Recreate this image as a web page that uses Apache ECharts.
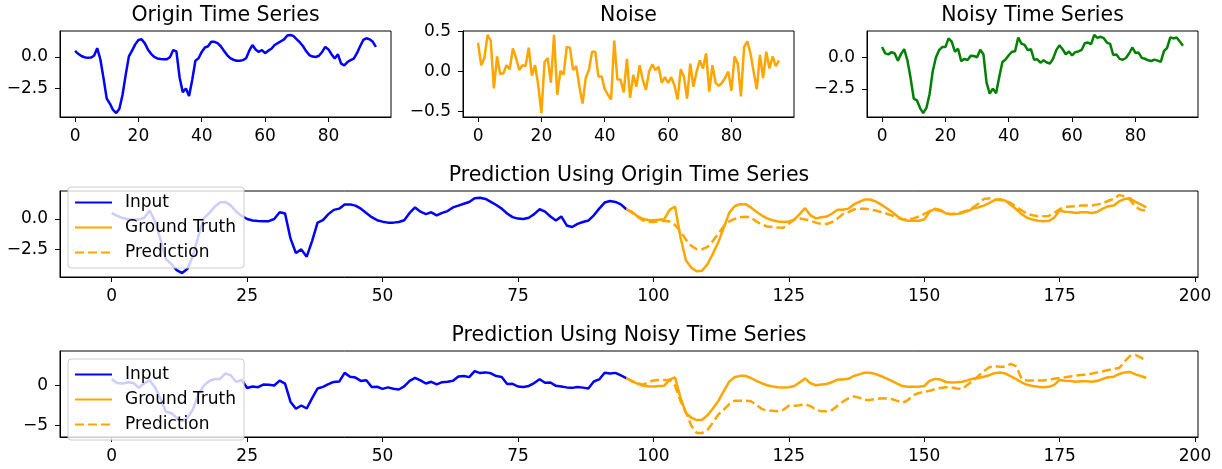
<!DOCTYPE html>
<html>
<head>
<meta charset="utf-8">
<title>Time series prediction</title>
<script src="https://cdn.jsdelivr.net/npm/echarts@6/dist/echarts.min.js"></script>
<style>
  html, body { margin: 0; padding: 0; background: #fff; }
  #chart { width: 1222px; height: 469px; }
</style>
</head>
<body>
<div id="chart"></div>
<script>
// --- data (index 0..95 for the inputs, 96..191 for the horizon) ---
const originSeries = [
  0.48, 0.25, 0.08, -0.02, -0.07, -0.05, 0.1, 0.7, -0.2, -1.7,
  -3.3, -3.7, -4.2, -4.45, -4.1, -3.0, -1.4, 0.05, 0.5, 1.0,
  1.35, 1.4, 1.1, 0.6, 0.25, 0.0, -0.12, -0.16, -0.18, -0.18,
  0.0, 0.55, 0.45, -1.6, -2.8, -2.5, -3.1, -1.8, -0.3, -0.1,
  0.4, 0.75, 0.85, 1.2, 1.2, 1.1, 0.85, 0.5, 0.15, -0.1,
  -0.22, -0.3, -0.3, -0.25, -0.1, 0.5, 0.95, 0.6, 0.4, 0.55,
  0.3, 0.5, 0.65, 0.95, 1.1, 1.25, 1.4, 1.7, 1.75, 1.65,
  1.4, 1.15, 0.85, 0.45, 0.15, 0.03, 0.0, 0.1, 0.4, 0.8,
  0.6, 0.2, -0.13, 0.21, -0.53, -0.66, -0.4, -0.25, -0.13, 0.3,
  0.85, 1.35, 1.48, 1.4, 1.2, 0.8
];
const noiseSeries = [
  0.36, 0.08, 0.17, 0.46, 0.39, -0.21, 0.19, -0.03, -0.02, 0.08,
  0.03, 0.29, 0.17, 0.02, 0.08, 0.07, 0.30, -0.05, 0.08, -0.17,
  -0.52, 0.12, 0.17, -0.14, 0.46, -0.29, 0.01, -0.04, 0.31, 0.30,
  0.02, 0.07, -0.19, -0.40, -0.08, 0.02, 0.25, 0.25, -0.06, -0.06,
  -0.22, -0.29, -0.35, 0.39, -0.10, -0.10, -0.26, 0.16, -0.33, -0.04,
  -0.19, 0.08, -0.10, -0.23, 0.0, 0.09, 0.02, 0.06, -0.14, -0.07,
  -0.14, -0.07, -0.17, -0.35, 0.03, -0.06, -0.34, 0.10, -0.19, 0.0,
  0.14, 0.04, 0.23, -0.25, 0.08, -0.14, -0.18, -0.14, -0.08, 0.0,
  -0.24, 0.19, 0.10, -0.31, 0.31, 0.38, 0.23, 0.0, -0.22, 0.21,
  -0.08, 0.25, 0.04, 0.19, 0.07, 0.14
];
const noisySeries = [
  0.84, 0.33, 0.25, 0.43, 0.32, -0.26, 0.29, 0.67, -0.22, -1.62,
  -3.27, -3.41, -4.03, -4.43, -4.02, -2.93, -1.1, 0.0, 0.58, 0.83,
  0.83, 1.52, 1.27, 0.46, 0.70, -0.29, -0.11, -0.2, 0.13, 0.12,
  0.02, 0.62, 0.26, -2.0, -2.88, -2.48, -2.85, -1.55, -0.36, -0.16,
  0.18, 0.46, 0.5, 1.59, 1.1, 1.0, 0.59, 0.66, -0.18, -0.14,
  -0.41, -0.22, -0.4, -0.48, -0.1, 0.59, 0.97, 0.66, 0.26, 0.48,
  0.16, 0.43, 0.48, 0.6, 1.13, 1.19, 1.06, 1.8, 1.56, 1.65,
  1.54, 1.19, 1.08, 0.2, 0.23, -0.11, -0.18, -0.04, 0.32, 0.8,
  0.36, 0.39, -0.03, -0.1, -0.22, -0.28, -0.17, -0.25, -0.35, 0.51,
  0.77, 1.6, 1.52, 1.59, 1.27, 0.94
];
const groundTruth = [
  0.6, 0.25, 0.02, -0.08, -0.1, -0.06, -0.02, 0.75, 1.03, -1.5,
  -3.4, -4.0, -4.3, -4.25, -3.7, -2.85, -1.9, -0.7, 0.5, 1.05,
  1.22, 1.22, 0.95, 0.6, 0.3, 0.05, -0.1, -0.2, -0.24, -0.2,
  -0.05, 0.4, 0.89, 0.3, 0.05, 0.14, 0.2, 0.45, 0.76, 0.76,
  0.85, 1.2, 1.4, 1.6, 1.6, 1.45, 1.2, 0.9, 0.6, 0.25,
  -0.05, -0.14, -0.15, -0.14, -0.05, 0.6, 0.84, 0.75, 0.45, 0.38,
  0.42, 0.48, 0.65, 0.85, 0.95, 1.1, 1.3, 1.55, 1.63, 1.5,
  1.15, 0.8, 0.4, 0.1, -0.05, -0.15, -0.19, -0.15, 0.1, 0.7,
  0.6, 0.57, 0.49, 0.55, 0.55, 0.49, 0.6, 0.85, 1.05, 1.11,
  1.45, 1.65, 1.71, 1.4, 1.2, 0.95
];
const predictionOrigin = [
  0.55, 0.2, -0.1, -0.25, -0.25, -0.19, -0.15, -0.2, -0.5, -1.0,
  -1.7, -2.2, -2.49, -2.49, -2.3, -1.8, -1.2, -0.6, -0.2, 0.0,
  0.15, 0.18, 0.12, -0.2, -0.45, -0.62, -0.66, -0.7, -0.73, -0.4,
  -0.05, 0.05, -0.05, -0.15, -0.3, -0.41, -0.41, -0.25, 0.05, 0.4,
  0.57, 0.78, 0.84, 0.84, 0.78, 0.7, 0.58, 0.45, 0.3, 0.1,
  -0.02, -0.05, 0.05, 0.2, 0.41, 0.65, 0.76, 0.68, 0.45, 0.41,
  0.45, 0.57, 0.7, 0.95, 1.25, 1.65, 1.7, 1.63, 1.57, 1.5,
  1.3, 1.0, 0.7, 0.45, 0.3, 0.22, 0.22, 0.25, 0.5, 0.8,
  0.97, 1.02, 1.05, 1.1, 1.11, 1.11, 1.2, 1.3, 1.5, 1.65,
  1.98, 1.85, 1.57, 1.0, 0.75, 0.68
];
const predictionNoisy = [
  0.55, 0.35, 0.12, 0.35, 0.65, 0.71, 0.71, 0.71, 0.0, -1.9,
  -3.3, -5.0, -5.9, -5.92, -5.5, -4.6, -3.6, -3.0, -2.3, -1.88,
  -1.88, -1.88, -1.95, -2.4, -2.9, -3.13, -3.13, -3.2, -3.0, -2.5,
  -2.5, -2.45, -2.33, -2.55, -3.0, -3.2, -3.2, -3.05, -2.5, -2.0,
  -1.6, -1.35, -1.5, -1.8, -1.8, -1.67, -1.58, -1.6, -1.67, -1.9,
  -2.15, -1.8, -1.2, -0.92, -0.8, -0.65, -0.45, -0.3, -0.21, -0.21,
  -0.35, -0.4, 0.1, 0.6, 1.2, 1.8, 2.29, 2.42, 2.35, 2.35,
  2.71, 2.4, 0.8, 0.63, 0.63, 0.63, 0.65, 0.71, 0.85, 0.95,
  1.04, 1.15, 1.25, 1.33, 1.4, 1.5, 1.65, 1.8, 1.95, 2.08,
  2.2, 3.0, 3.7, 3.83, 3.5, 3.13
];

const horizonStart = 96;
const smallXTicks = [0, 20, 40, 60, 80];
const wideXTicks = [0, 25, 50, 75, 100, 125, 150, 175, 200];
const originYTicks = [-2.5, 0];
const noiseYTicks = [-0.5, 0, 0.5];
const noisyYTicks = [-2.5, 0];
const predOriginYTicks = [-2.5, 0];
const predNoisyYTicks = [-5, 0];

const titles = [
  'Origin Time Series', 'Noise', 'Noisy Time Series',
  'Prediction Using Origin Time Series', 'Prediction Using Noisy Time Series'
];
const legendNames = ['Input', 'Ground Truth', 'Prediction'];

// --- helpers ---
const FONT = 'DejaVu Sans';
const BLUE = '#0000ff';
const ORANGE = '#ffa500';
const GREEN = '#008000';
const TICK_FONT = 17;
const TITLE_FONT = 20.5;

// matplotlib-like autoscale: data limits plus 5% margin each side
function paddedRange(...arrays) {
  const all = arrays.flat();
  const lo = Math.min(...all);
  const hi = Math.max(...all);
  const m = (hi - lo) * 0.05;
  return [lo - m, hi + m];
}

function toPoints(values, start) {
  return values.map((v, i) => [start + i, v]);
}

function fmt(decimals) {
  return (v) => Number(v).toFixed(decimals).replace('-', '\u2212');
}

function makeAxis(gridIndex, range, ticks, decimals, isY) {
  return {
    type: 'value',
    gridIndex,
    min: range[0],
    max: range[1],
    axisLine: { show: true, onZero: false, lineStyle: { color: '#000', width: 1 } },
    axisTick: { show: true, length: 5, customValues: ticks, lineStyle: { color: '#000', width: 1 } },
    axisLabel: {
      customValues: ticks,
      formatter: fmt(decimals),
      color: '#000',
      fontSize: TICK_FONT,
      fontFamily: FONT,
      margin: isY ? 12 : 11
    },
    splitLine: { show: false }
  };
}

function lineSeries(name, points, idx, color, dashed) {
  return {
    name,
    type: 'line',
    xAxisIndex: idx,
    yAxisIndex: idx,
    data: points,
    symbol: 'none',
    lineStyle: { color, width: 2.5, type: dashed ? [9, 4] : 'solid' },
    itemStyle: { color },
    z: 2
  };
}

// --- layout: 3 small axes on top, 2 wide axes below ---
const grids = [
  { left: 60, top: 31, width: 331, height: 86 },
  { left: 463, top: 31, width: 331, height: 86 },
  { left: 867, top: 31, width: 331, height: 86 },
  { left: 60, top: 191, width: 1138, height: 86 },
  { left: 60, top: 351, width: 1138, height: 86 }
].map(g => Object.assign(g, { show: true, borderColor: '#000', borderWidth: 1, backgroundColor: 'transparent' }));

const titleTops = [5, 5, 5, 165, 325];

const lastIdx = horizonStart - 1;
const originInput = toPoints(originSeries, 0);
const noisyInput = toPoints(noisySeries, 0);
// horizon lines are joined to the last input point
const gtFromOrigin = [[lastIdx, originSeries[lastIdx]]].concat(toPoints(groundTruth, horizonStart));
const gtFromNoisy = [[lastIdx, noisySeries[lastIdx]]].concat(toPoints(groundTruth, horizonStart));
const predOrigin = [[lastIdx, originSeries[lastIdx]]].concat(toPoints(predictionOrigin, horizonStart));
const predNoisy = [[lastIdx, noisySeries[lastIdx]]].concat(toPoints(predictionNoisy, horizonStart));

const smallXRange = paddedRange([0, originSeries.length - 1]);
const wideXRange = paddedRange([0, horizonStart + groundTruth.length - 1]);

const xAxes = [
  makeAxis(0, smallXRange, smallXTicks, 0, false),
  makeAxis(1, smallXRange, smallXTicks, 0, false),
  makeAxis(2, smallXRange, smallXTicks, 0, false),
  makeAxis(3, wideXRange, wideXTicks, 0, false),
  makeAxis(4, wideXRange, wideXTicks, 0, false)
];
const yAxes = [
  makeAxis(0, paddedRange(originSeries), originYTicks, 1, true),
  makeAxis(1, paddedRange(noiseSeries), noiseYTicks, 1, true),
  makeAxis(2, paddedRange(noisySeries), noisyYTicks, 1, true),
  makeAxis(3, paddedRange(originSeries, groundTruth, predictionOrigin), predOriginYTicks, 1, true),
  makeAxis(4, paddedRange(noisySeries, groundTruth, predictionNoisy), predNoisyYTicks, 0, true)
];

const legendBase = {
  data: legendNames,
  orient: 'vertical',
  left: 68,
  itemWidth: 37,
  itemHeight: 14,
  itemGap: 8,
  padding: [7, 8, 7, 6],
  backgroundColor: 'rgba(255,255,255,0.8)',
  borderColor: '#cccccc',
  borderWidth: 1,
  borderRadius: 3,
  selectedMode: false,
  itemStyle: { opacity: 0 },
  textStyle: { color: '#000', fontSize: TICK_FONT, lineHeight: 17, fontFamily: FONT, padding: [0, 0, 0, 8] },
  z: 10
};

const option = {
  animation: false,
  backgroundColor: '#fff',
  title: titles.map((text, i) => ({
    text,
    left: grids[i].left + grids[i].width / 2,
    top: titleTops[i],
    textAlign: 'center',
    padding: 0,
    textStyle: { color: '#000', fontSize: TITLE_FONT, fontWeight: 'normal', fontFamily: FONT }
  })),
  grid: grids,
  xAxis: xAxes,
  yAxis: yAxes,
  legend: [
    Object.assign({}, legendBase, { top: 187 }),
    Object.assign({}, legendBase, { top: 359 })
  ],
  series: [
    lineSeries('Origin', originInput, 0, BLUE, false),
    lineSeries('Noise', toPoints(noiseSeries, 0), 1, ORANGE, false),
    lineSeries('Noisy', noisyInput, 2, GREEN, false),
    lineSeries('Input', originInput, 3, BLUE, false),
    lineSeries('Ground Truth', gtFromOrigin, 3, ORANGE, false),
    lineSeries('Prediction', predOrigin, 3, ORANGE, true),
    lineSeries('Input', noisyInput, 4, BLUE, false),
    lineSeries('Ground Truth', gtFromNoisy, 4, ORANGE, false),
    lineSeries('Prediction', predNoisy, 4, ORANGE, true)
  ]
};

const chart = echarts.init(document.getElementById('chart'), null, { renderer: 'canvas' });
chart.setOption(option);
</script>
</body>
</html>
